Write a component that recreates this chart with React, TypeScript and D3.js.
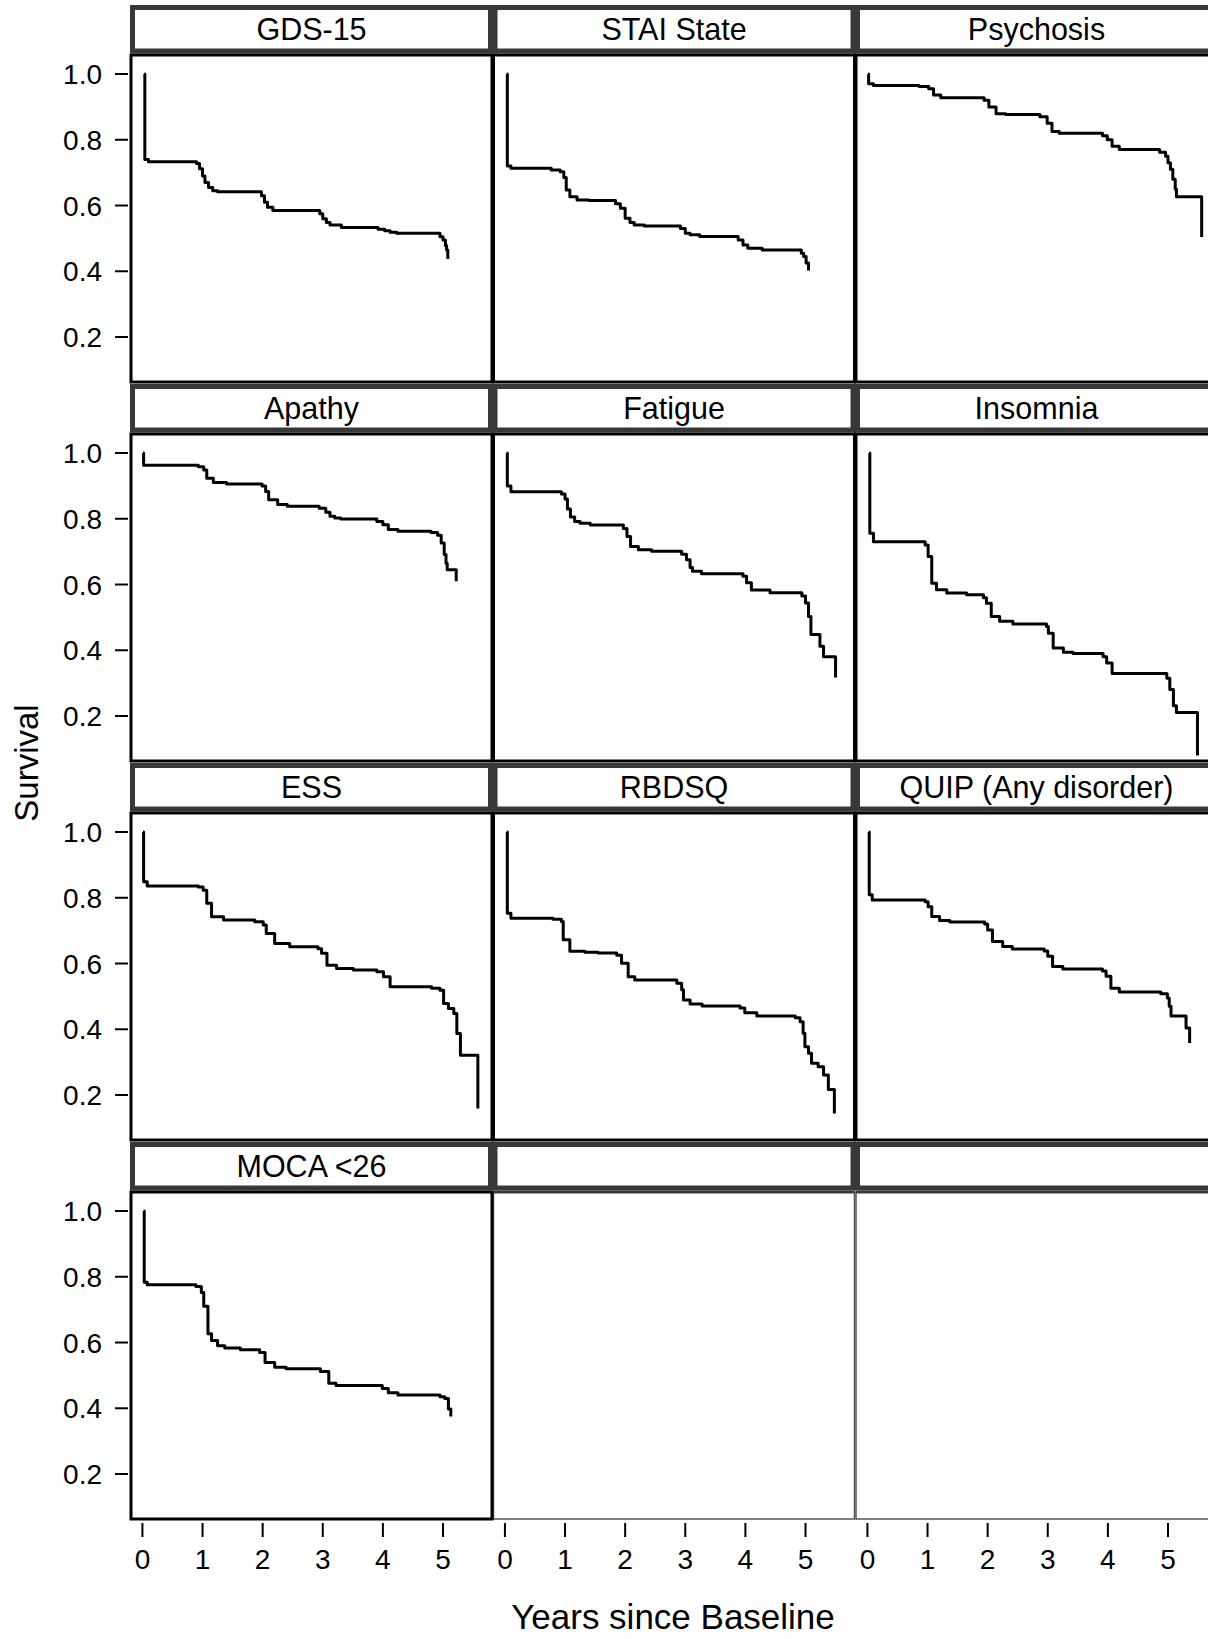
import React from "react";
import * as d3 from "d3";

// ---- Data ----
const panelTitles = [
  "GDS-15", "STAI State", "Psychosis",
  "Apathy", "Fatigue", "Insomnia",
  "ESS", "RBDSQ", "QUIP (Any disorder)",
  "MOCA <26", "", "",
];

const gds15 = [[0.03,1.0],[0.04,0.74],[0.1,0.733],[0.9,0.728],[0.95,0.712],[1.0,0.69],[1.04,0.67],[1.1,0.655],[1.17,0.645],[1.25,0.642],[1.98,0.63],[2.03,0.61],[2.08,0.595],[2.17,0.585],[2.95,0.575],[3.0,0.56],[3.06,0.548],[3.12,0.541],[3.31,0.533],[3.92,0.528],[4.03,0.523],[4.12,0.519],[4.23,0.516],[4.95,0.505],[5.0,0.495],[5.04,0.478],[5.06,0.465],[5.08,0.437]];
const staiState = [[0.03,1.0],[0.04,0.72],[0.1,0.713],[0.77,0.708],[0.92,0.703],[0.98,0.685],[1.02,0.647],[1.08,0.627],[1.2,0.617],[1.4,0.615],[1.84,0.605],[1.92,0.592],[2.0,0.561],[2.08,0.548],[2.15,0.541],[2.32,0.538],[2.92,0.53],[3.0,0.516],[3.08,0.511],[3.24,0.506],[3.88,0.495],[3.96,0.48],[4.04,0.47],[4.28,0.465],[4.93,0.455],[4.97,0.445],[5.01,0.425],[5.05,0.402]];
const psychosis = [[0.01,1.0],[0.02,0.97],[0.1,0.965],[0.86,0.962],[1.02,0.955],[1.1,0.936],[1.22,0.928],[1.94,0.92],[2.02,0.9],[2.14,0.879],[2.3,0.877],[2.87,0.87],[2.99,0.85],[3.07,0.825],[3.19,0.82],[3.91,0.812],[3.99,0.8],[4.07,0.78],[4.19,0.77],[4.86,0.762],[4.96,0.75],[5.0,0.73],[5.04,0.71],[5.08,0.68],[5.12,0.65],[5.14,0.627],[5.56,0.504]];
const apathy = [[0.01,1.0],[0.02,0.963],[0.93,0.958],[1.02,0.948],[1.07,0.923],[1.18,0.91],[1.4,0.906],[1.99,0.9],[2.05,0.883],[2.1,0.858],[2.25,0.843],[2.41,0.838],[2.94,0.832],[3.05,0.82],[3.12,0.808],[3.2,0.802],[3.3,0.799],[3.9,0.792],[4.0,0.782],[4.09,0.767],[4.25,0.762],[4.8,0.758],[4.91,0.75],[4.97,0.726],[5.02,0.691],[5.05,0.665],[5.07,0.645],[5.22,0.61]];
const fatigue = [[0.03,1.0],[0.04,0.9],[0.1,0.882],[0.94,0.875],[1.0,0.86],[1.04,0.83],[1.09,0.805],[1.16,0.792],[1.25,0.786],[1.42,0.781],[1.97,0.77],[2.03,0.746],[2.09,0.716],[2.22,0.706],[2.44,0.701],[2.94,0.692],[3.02,0.675],[3.08,0.652],[3.12,0.64],[3.27,0.633],[3.96,0.625],[4.02,0.605],[4.1,0.583],[4.41,0.575],[4.94,0.565],[5.0,0.544],[5.05,0.503],[5.09,0.448],[5.24,0.412],[5.3,0.38],[5.5,0.317]];
const insomnia = [[0.03,1.0],[0.04,0.756],[0.1,0.73],[0.96,0.72],[1.01,0.685],[1.07,0.604],[1.15,0.584],[1.32,0.574],[1.65,0.569],[1.93,0.56],[1.98,0.543],[2.06,0.503],[2.2,0.488],[2.42,0.48],[2.98,0.472],[3.01,0.452],[3.09,0.407],[3.26,0.394],[3.42,0.39],[3.92,0.38],[3.98,0.361],[4.07,0.329],[4.98,0.315],[5.03,0.281],[5.09,0.231],[5.14,0.211],[5.49,0.08]];
const ess = [[0.01,1.0],[0.02,0.849],[0.08,0.836],[0.93,0.833],[1.01,0.823],[1.07,0.783],[1.15,0.742],[1.35,0.732],[1.87,0.727],[2.01,0.717],[2.06,0.691],[2.2,0.661],[2.45,0.651],[2.92,0.645],[2.98,0.631],[3.07,0.595],[3.23,0.585],[3.51,0.58],[3.9,0.575],[4.01,0.56],[4.12,0.529],[4.81,0.525],[4.95,0.519],[5.01,0.478],[5.09,0.463],[5.18,0.448],[5.23,0.387],[5.29,0.321],[5.58,0.159]];
const rbdsq = [[0.03,1.0],[0.04,0.753],[0.1,0.738],[0.8,0.735],[0.94,0.728],[0.97,0.672],[1.08,0.637],[1.33,0.634],[1.55,0.632],[1.86,0.625],[1.94,0.601],[2.05,0.56],[2.16,0.55],[2.86,0.54],[2.94,0.52],[2.97,0.489],[3.08,0.477],[3.28,0.471],[3.91,0.465],[3.99,0.45],[4.19,0.44],[4.83,0.435],[4.91,0.423],[4.96,0.388],[4.99,0.347],[5.05,0.327],[5.1,0.297],[5.21,0.286],[5.3,0.261],[5.38,0.217],[5.48,0.144]];
const quip = [[0.02,1.0],[0.03,0.809],[0.08,0.793],[0.96,0.788],[1.01,0.773],[1.07,0.743],[1.2,0.731],[1.37,0.726],[1.95,0.72],[2.0,0.702],[2.08,0.667],[2.25,0.652],[2.41,0.644],[2.94,0.638],[3.0,0.622],[3.08,0.591],[3.25,0.583],[3.91,0.577],[3.97,0.561],[4.05,0.525],[4.19,0.513],[4.88,0.508],[4.99,0.495],[5.02,0.47],[5.05,0.44],[5.3,0.404],[5.36,0.358]];
const moca = [[0.02,1.0],[0.03,0.783],[0.08,0.776],[0.89,0.77],[0.98,0.752],[1.02,0.71],[1.09,0.627],[1.15,0.606],[1.25,0.59],[1.37,0.583],[1.63,0.578],[1.95,0.57],[2.04,0.539],[2.2,0.525],[2.39,0.52],[2.96,0.512],[3.1,0.476],[3.22,0.469],[3.99,0.46],[4.09,0.447],[4.25,0.44],[4.95,0.435],[5.03,0.43],[5.09,0.398],[5.13,0.375]];

const panelSeries = [gds15, staiState, psychosis, apathy, fatigue, insomnia, ess, rbdsq, quip, moca, null, null];

const yTicks = [0.2, 0.4, 0.6, 0.8, 1.0];
const xTicks = [0, 1, 2, 3, 4, 5];
const xDomain = [-0.19, 5.815];
const yDomain = [0.0632, 1.0578];
const xTitle = "Years since Baseline";
const yTitle = "Survival";

// ---- Layout ----
const W = 1208, H = 1639;
const left0 = 131, colPitch = 362.5, cellW = 361;
const top0 = 55, rowPitch = 379, cellH = 327;
const nCols = 3, nRows = 4;
const FONT = "'Liberation Sans', Arial, Helvetica, sans-serif";
const STRIP = "#383838";

export default function App() {
  const fmt = d3.format(".1f");
  const cells = panelTitles.map((title, i) => {
    const c = i % nCols, r = Math.floor(i / nCols);
    const x0 = left0 + c * colPitch;
    const y0 = top0 + r * rowPitch;
    const xs = d3.scaleLinear().domain(xDomain).range([x0, x0 + cellW]);
    const ys = d3.scaleLinear().domain(yDomain).range([y0 + cellH, y0]);
    return { title, c, r, x0, y0, xs, ys, data: panelSeries[i] };
  });
  const line = (xs, ys) =>
    d3.line().x((d) => xs(d[0])).y((d) => ys(d[1])).curve(d3.curveStepAfter);
  const bottomY = top0 + (nRows - 1) * rowPitch + cellH;

  return (
    <svg width={W} height={H} style={{ position: "absolute", left: 0, top: 0, background: "#fff" }} fontFamily={FONT}>
      <rect x={0} y={0} width={W} height={H} fill="#fff" />
      {/* empty panels */}
      {cells.filter((d) => !d.data).map((d, i) => (
        <g key={"e" + i}>
          <rect x={d.x0} y={d.y0} width={cellW} height={cellH} fill="none" stroke="#555" strokeWidth={1.5} />
          <line x1={d.x0} x2={d.x0 + cellW} y1={d.y0} y2={d.y0} stroke={STRIP} strokeWidth={3} />
        </g>
      ))}
      {/* strips */}
      {cells.map((d, i) => (
        <g key={"s" + i}>
          <rect x={d.x0 + 1.5} y={d.y0 - 47.5} width={cellW - 3} height={43.5} fill="#fff" stroke={STRIP} strokeWidth={5} />
          <text x={d.x0 + cellW / 2} y={d.y0 - 15} textAnchor="middle" fontSize={30.5} fill="#000">{d.title}</text>
        </g>
      ))}
      {/* panels with curves */}
      {cells.filter((d) => d.data).map((d, i) => (
        <g key={"p" + i}>
          <path d={line(d.xs, d.ys)(d.data)} fill="none" stroke="#000" strokeWidth={3} strokeLinejoin="round" />
          <rect x={d.x0} y={d.y0} width={cellW} height={cellH} fill="none" stroke="#000" strokeWidth={3} />
        </g>
      ))}
      {/* y axes (first column) */}
      {cells.filter((d) => d.c === 0).map((d, i) => (
        <g key={"y" + i}>
          {yTicks.map((t) => (
            <g key={t}>
              <line x1={115} x2={128} y1={d.ys(t)} y2={d.ys(t)} stroke="#000" strokeWidth={2} />
              <text x={102} y={d.ys(t)} dy="0.36em" textAnchor="end" fontSize={28} fill="#000">{fmt(t)}</text>
            </g>
          ))}
        </g>
      ))}
      {/* x axes (bottom row) */}
      {cells.filter((d) => d.r === nRows - 1).map((d, i) => (
        <g key={"x" + i}>
          {xTicks.map((t) => (
            <g key={t}>
              <line x1={d.xs(t)} x2={d.xs(t)} y1={bottomY + 4} y2={bottomY + 18} stroke="#000" strokeWidth={2} />
              <text x={d.xs(t)} y={bottomY + 50} textAnchor="middle" fontSize={28} fill="#000">{t}</text>
            </g>
          ))}
        </g>
      ))}
      <text x={673} y={1629} textAnchor="middle" fontSize={35} fill="#000">{xTitle}</text>
      <text transform={`translate(38,${(7 + bottomY) / 2}) rotate(-90)`} textAnchor="middle" fontSize={33} fill="#000">{yTitle}</text>
    </svg>
  );
}
